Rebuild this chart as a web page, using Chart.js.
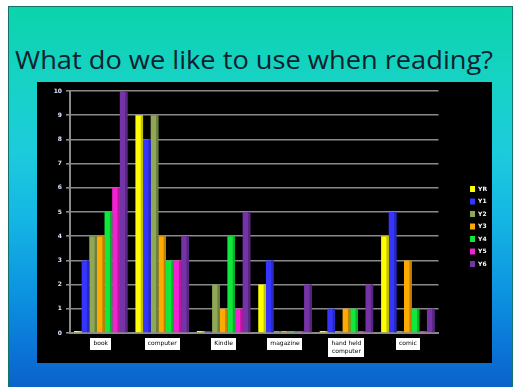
<!DOCTYPE html>
<html>
<head>
<meta charset="utf-8">
<script src="https://cdn.jsdelivr.net/npm/chart.js@4"></script>
<style>
  html, body { margin: 0; padding: 0; background: #ffffff; }
  body { width: 516px; height: 387px; position: relative; overflow: hidden; }
  .slide {
    position: absolute; left: 8px; top: 6px; width: 503px; height: 384px;
    border: 1px solid #17706a;
    background: linear-gradient(to bottom, #0bd4ab 0%, #17d2c6 20%, #1ccbdc 38%, #15b6e4 55%, #0c92e0 75%, #0a6fd4 92%, #0a62c8 100%);
  }
  .title {
    position: absolute; left: 15px; top: 41px; margin: 0;
    font-family: "Open Sans", sans-serif; font-weight: normal; font-size: 26px;
    color: #10202e; white-space: nowrap; transform-origin: 0 0;
  }
  .panel {
    position: absolute; left: 37px; top: 82px; width: 455px; height: 281px; background: #000;
  }
  canvas { display: block; }
</style>
</head>
<body>
<div class="slide"></div>
<h1 class="title" id="title">What do we like to use when reading?</h1>
<div class="panel"><canvas id="c" width="455" height="281"></canvas></div>
<script>
// categories and year groups
const categories = ['book', 'computer', 'Kindle', 'magazine', ['hand held', 'computer'], 'comic'];
const seriesNames = ['YR', 'Y1', 'Y2', 'Y3', 'Y4', 'Y5', 'Y6'];

// votes per year group, one entry per category
const yr = [0, 9, 0, 2, 0, 4];
const y1 = [3, 8, 0, 3, 1, 5];
const y2 = [4, 9, 2, 0, 0, 0];
const y3 = [4, 4, 1, 0, 1, 3];
const y4 = [5, 3, 4, 0, 1, 1];
const y5 = [6, 3, 1, 0, 0, 0];
const y6 = [10, 4, 5, 2, 2, 1];

const yTicks = [0, 1, 2, 3, 4, 5, 6, 7, 8, 9, 10];

const seriesValues = [yr, y1, y2, y3, y4, y5, y6];
const colors = ['#ffff00', '#3535ff', '#8fa855', '#ffaa00', '#10e83c', '#f022d2', '#7433a6'];

const tickFont = { family: 'DejaVu Sans', size: 6, lineHeight: 1.25 };
const xTickPadding = 7;

// stretch the heading across the slide
const t = document.getElementById('title');
const w = t.getBoundingClientRect().width;
t.style.transform = 'scaleX(' + (478 / w) + ')';

function shade(hex, f) {
  const n = parseInt(hex.slice(1), 16);
  const r = Math.round(((n >> 16) & 255) * f);
  const g = Math.round(((n >> 8) & 255) * f);
  const b = Math.round((n & 255) * f);
  return 'rgb(' + r + ',' + g + ',' + b + ')';
}

// white boxes behind the category names (drawn before the axis text)
const labelBoxes = {
  id: 'labelBoxes',
  beforeDraw(chart) {
    const sc = chart.scales.x;
    const ctx = chart.ctx;
    ctx.save();
    ctx.font = tickFont.size + 'px "' + tickFont.family + '"';
    const lh = tickFont.size * tickFont.lineHeight;
    categories.forEach((lbl, i) => {
      const lines = Array.isArray(lbl) ? lbl : [lbl];
      const wMax = Math.max(...lines.map(l => ctx.measureText(l).width));
      const x = sc.getPixelForTick(i);
      const top = sc.top + xTickPadding;
      ctx.fillStyle = '#ffffff';
      ctx.fillRect(Math.round(x - wMax / 2 - 3), Math.round(top - 2), Math.round(wMax + 6), Math.round(lines.length * lh + 4));
    });
    ctx.restore();
  }
};

// darker right face on each bar for a bit of depth
const barDepth = {
  id: 'barDepth',
  afterDatasetsDraw(chart) {
    const ctx = chart.ctx;
    chart.data.datasets.forEach((ds, i) => {
      const meta = chart.getDatasetMeta(i);
      meta.data.forEach(bar => {
        const p = bar.getProps(['x', 'y', 'base', 'width'], true);
        const left = p.x - p.width / 2;
        const top = Math.min(p.y, p.base);
        const h = Math.abs(p.base - p.y);
        ctx.save();
        ctx.fillStyle = shade(colors[i], 0.75);
        ctx.fillRect(left + p.width * 0.7, top, p.width * 0.3, h);
        ctx.restore();
      });
    });
  }
};

new Chart(document.getElementById('c'), {
  type: 'bar',
  data: {
    labels: categories,
    datasets: seriesNames.map((name, i) => ({
      label: name,
      data: seriesValues[i],
      backgroundColor: colors[i],
      borderWidth: 0,
      minBarLength: 2,
      categoryPercentage: 0.87,
      barPercentage: 1.0
    }))
  },
  options: {
    responsive: false,
    animation: false,
    layout: { padding: { top: 9, right: -5, bottom: 1, left: 0 } },
    plugins: {
      title: { display: false },
      tooltip: { enabled: false },
      legend: {
        position: 'right',
        labels: {
          boxWidth: 5, boxHeight: 6, padding: 6.5,
          color: '#ffffff',
          font: { family: 'DejaVu Sans', size: 6, weight: 'bold' }
        }
      }
    },
    scales: {
      x: {
        grid: { display: false, drawTicks: false, tickLength: 0 },
        border: { display: true, color: '#8a8a8a', width: 2 },
        ticks: {
          color: '#000000',
          font: tickFont,
          padding: xTickPadding,
          maxRotation: 0,
          autoSkip: false
        }
      },
      y: {
        min: 0, max: 10,
        afterFit(s) { s.width = 33; },
        afterBuildTicks(s) { s.ticks = yTicks.map(v => ({ value: v })); },
        grid: { color: '#8a8a8a', lineWidth: 1.6, tickLength: 4, tickColor: '#8a8a8a' },
        border: { display: true, color: '#8a8a8a', width: 2 },
        ticks: {
          color: '#dce8ff',
          font: { family: 'DejaVu Sans', size: 6, weight: 'bold' },
          padding: 4
        }
      },
      // empty right-hand axis that keeps the legend clear of the plot
      gap: {
        type: 'linear',
        position: 'right',
        display: true,
        afterFit(s) { s.width = 25; },
        grid: { display: false },
        border: { display: false },
        ticks: { display: false }
      }
    }
  },
  plugins: [labelBoxes, barDepth]
});
</script>
</body>
</html>
